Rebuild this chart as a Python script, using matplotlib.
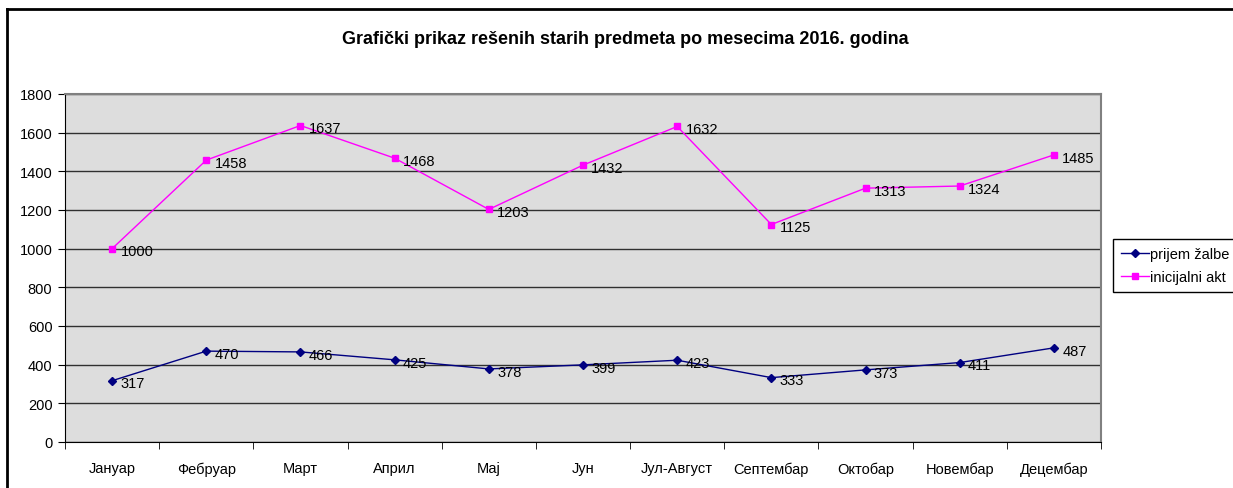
import numpy as np
import matplotlib
matplotlib.use("Agg")
from matplotlib import pyplot as plt
from matplotlib.lines import Line2D

plt.rcParams['font.family'] = ['Liberation Sans', 'DejaVu Sans']

months = ["Јануар", "Фебруар", "Март", "Април", "Мај", "Јун", "Јул-Август",
          "Септембар", "Октобар", "Новембар", "Децембар"]
prijem_zalbe = [317, 470, 466, 425, 378, 399, 423, 333, 373, 411, 487]
inicijalni_akt = [1000, 1458, 1637, 1468, 1203, 1432, 1632, 1125, 1313, 1324, 1485]

fig = plt.figure(figsize=(12.33, 4.89), dpi=100)
ax = fig.add_axes([65/1233, 1-443/489, 1036/1233, 348/489])
ax.set_facecolor('#dddddd')

x = np.arange(len(months))
ax.plot(x, prijem_zalbe, color='#000080', marker='D', markersize=4.5, lw=1, label='prijem žalbe')
ax.plot(x, inicijalni_akt, color='#ff00ff', marker='s', markersize=5, lw=1, label='inicijalni akt')

for xi, v in zip(x, prijem_zalbe):
    ax.annotate(str(v), (xi, v), xytext=(6, -2), textcoords='offset points',
                ha='left', va='center', fontsize=10.5)
for xi, v in zip(x, inicijalni_akt):
    ax.annotate(str(v), (xi, v), xytext=(6, -2), textcoords='offset points',
                ha='left', va='center', fontsize=10.5)

ax.set_xlim(-0.5, len(months) - 0.5)
ax.set_ylim(0, 1800)
ax.set_yticks(np.arange(0, 1801, 200))
ax.yaxis.grid(True, color='#303030', lw=1)
ax.set_axisbelow(True)

ax.set_xticks(x)
ax.set_xticklabels(months, fontsize=10.5)
ax.set_xticks(np.arange(-0.5, len(months), 1), minor=True)
ax.tick_params(axis='x', which='major', length=0, pad=14)
ax.tick_params(axis='x', which='minor', length=5, direction='out')
ax.tick_params(axis='y', length=5, labelsize=10.5, pad=4)

for s in ['top', 'right']:
    ax.spines[s].set_color('#808080')
    ax.spines[s].set_linewidth(1.5)
for s in ['left', 'bottom']:
    ax.spines[s].set_color('black')

fig.text(625/1233, 1-40/489, "Grafički prikaz rešenih starih predmeta po mesecima 2016. godina",
         ha='center', va='center', fontsize=13, fontweight='bold')

leg = fig.legend(loc='upper left', bbox_to_anchor=(1113/1233, 1-240/489), fontsize=10.5,
                 fancybox=False, framealpha=1, edgecolor='black', handlelength=1.9,
                 borderpad=0.55, labelspacing=0.6, handletextpad=0.1, borderaxespad=0)

# outer chart border (cut off on right and bottom)
fig.add_artist(Line2D([7/1233, 7/1233], [0, 1-10/489], color='black', lw=2))
fig.add_artist(Line2D([7/1233, 1], [1-10/489, 1-10/489], color='black', lw=2))

fig.savefig("out.png", dpi=100)
